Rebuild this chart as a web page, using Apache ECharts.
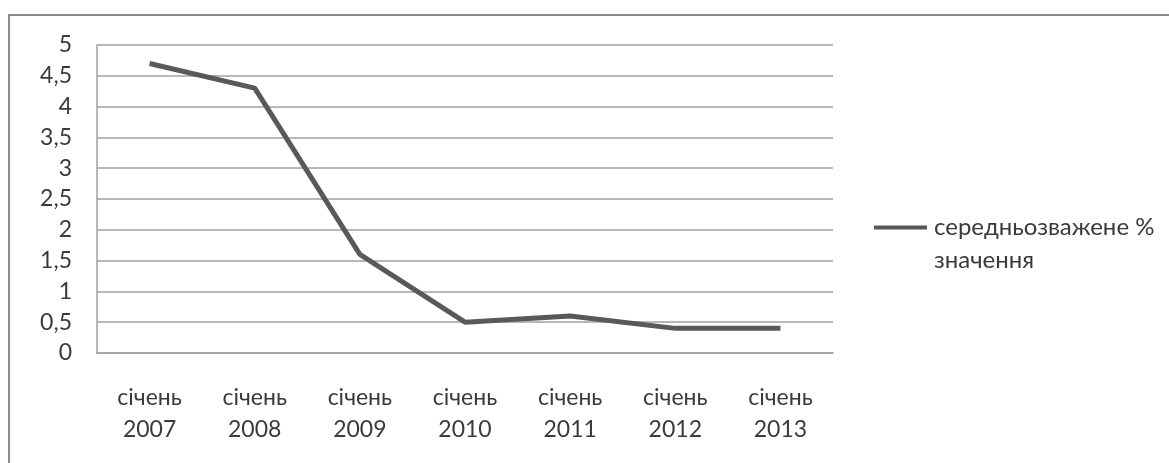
<!DOCTYPE html>
<html>
<head>
<meta charset="utf-8">
<script src="https://cdn.jsdelivr.net/npm/echarts@6/dist/echarts.min.js"></script>
<style>
  html, body { margin: 0; padding: 0; background: #fff; }
  #chart { width: 1169px; height: 463px; }
</style>
</head>
<body>
<div id="chart"></div>
<script>
// Weighted average rate, January of each year
const categories = ['січень\n2007', 'січень\n2008', 'січень\n2009', 'січень\n2010', 'січень\n2011', 'січень\n2012', 'січень\n2013'];
const seriesName = 'середньозважене % значення';
const values = [4.7, 4.3, 1.6, 0.5, 0.6, 0.4, 0.4];

const FONT = 'Lato';
const FONT_SIZE = 23;
const TEXT = '#3a3a3a';
const GRID = '#a0a0a0';
const LINE = '#595959';

const chart = echarts.init(document.getElementById('chart'), null, { renderer: 'canvas' });

chart.setOption({
  animation: false,
  backgroundColor: '#ffffff',
  graphic: [{
    type: 'rect',
    silent: true,
    shape: { x: 9, y: 15, width: 1300, height: 600 },
    style: { fill: 'none', stroke: '#8c8c8c', lineWidth: 2 }
  }],
  grid: { left: 97, top: 45, width: 736, height: 308, containLabel: false },
  legend: {
    left: 874,
    top: 178,
    padding: 0,
    icon: 'rect',
    itemWidth: 53,
    itemHeight: 4,
    data: [{ name: seriesName, itemStyle: { color: LINE } }],
    // leading blank line keeps the first text line level with the legend line
    formatter: () => '\nсередньозважене %\nзначення',
    textStyle: {
      fontFamily: FONT,
      fontSize: 24,
      color: TEXT,
      lineHeight: 33,
      padding: [0, 0, 0, 2]
    }
  },
  xAxis: {
    type: 'category',
    data: categories,
    boundaryGap: true,
    axisLine: { show: true, lineStyle: { color: GRID, width: 1.5 } },
    axisTick: { show: false },
    axisLabel: {
      interval: 0,
      margin: 29,
      fontFamily: FONT,
      fontSize: FONT_SIZE,
      lineHeight: 32,
      color: TEXT
    },
    splitLine: { show: false }
  },
  yAxis: {
    type: 'value',
    min: 0,
    max: 5,
    interval: 0.5,
    axisLine: { show: true, lineStyle: { color: GRID, width: 1.5 } },
    axisTick: { show: false },
    axisLabel: {
      margin: 25,
      fontFamily: FONT,
      fontSize: FONT_SIZE,
      color: TEXT,
      formatter: v => String(v).replace('.', ',')
    },
    splitLine: { show: true, lineStyle: { color: GRID, width: 1.5 } }
  },
  series: [{
    name: seriesName,
    type: 'line',
    data: values,
    symbol: 'none',
    lineStyle: { color: LINE, width: 5 },
    itemStyle: { color: LINE }
  }]
});
</script>
</body>
</html>
